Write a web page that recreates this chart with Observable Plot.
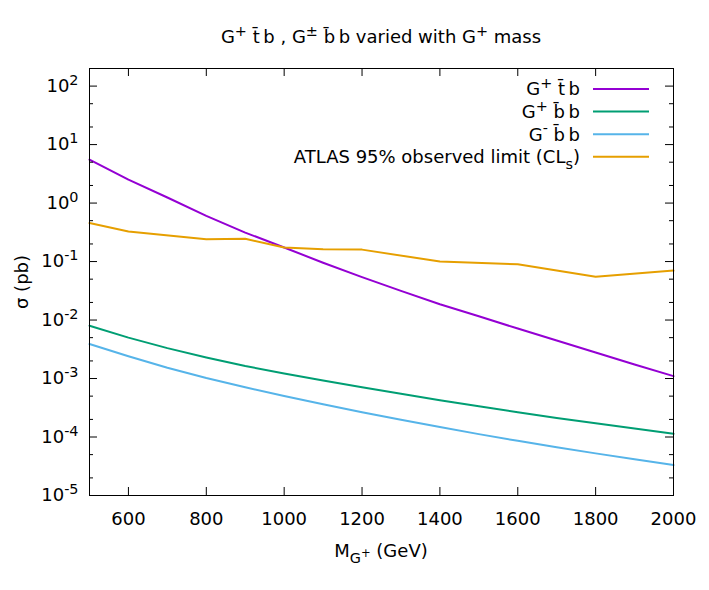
<!DOCTYPE html>
<html><head><meta charset="utf-8">
<script src="https://cdn.jsdelivr.net/npm/d3@7"></script>
<script src="https://cdn.jsdelivr.net/npm/@observablehq/plot@0.6"></script>
<style>body{margin:0;background:white}</style>
</head><body><div id="chart"></div>
<script>
// ---- data ----
const masses = [500,600,700,800,900,1000,1100,1200,1300,1400,1500,1600,1700,1800,1900,2000];
const sigmaTb = [5.53,2.51,1.245,0.605,0.313,0.174,0.0955,0.0543,0.0316,0.0186,0.0116,0.00716,0.00447,0.00279,0.00174,0.0011];
const sigmaBbPlus = [0.0080,0.00501,0.00331,0.00229,0.00164,0.00122,9.23e-4,7.08e-4,5.50e-4,4.27e-4,3.35e-4,2.66e-4,2.11e-4,1.72e-4,1.40e-4,1.135e-4];
const sigmaBbMinus = [3.89e-3,2.40e-3,1.53e-3,1.02e-3,7.08e-4,5.01e-4,3.63e-4,2.66e-4,1.97e-4,1.48e-4,1.12e-4,8.61e-5,6.68e-5,5.25e-5,4.17e-5,3.31e-5];
const limitMass = [500,600,800,900,1000,1100,1200,1400,1600,1800,2000];
const limitSigma = [0.455,0.327,0.24,0.245,0.174,0.163,0.16,0.100,0.090,0.055,0.070];
const seriesNames = ["G^{+} t\u0304\u2009b", "G^{+} b\u0304\u2009b", "G^{-} b\u0304\u2009b", "ATLAS 95% observed limit (CL_{s})"];
const seriesColors = ["#9400d3", "#009e73", "#56b4e9", "#e69f00"];
const xTicks = [600,800,1000,1200,1400,1600,1800,2000];
const yMajor = [1e-5,1e-4,1e-3,1e-2,1e-1,1,10,100];
const yMinor = [2e-5,5e-5,2e-4,5e-4,2e-3,5e-3,2e-2,5e-2,2e-1,5e-1,2,5,20,50,200];
const titleText = "G^{+} t\u0304\u2009b , G^{\u00b1} b\u0304\u2009b varied with G^{+} mass";
const xLabel = "M_{G}~{+} (GeV)";
const yLabel = "\u03c3 (pb)";

// ---- table ----
const rows = [];
[sigmaTb, sigmaBbPlus, sigmaBbMinus].forEach((arr, i) =>
  arr.forEach((s, j) => rows.push({series: seriesNames[i], m: masses[j], s})));
limitSigma.forEach((s, j) => rows.push({series: seriesNames[3], m: limitMass[j], s}));

const W = 709, H = 590, mL = 89, mR = 36, mT = 68, mB = 95;
const pw = W - mL - mR, ph = H - mT - mB;
const FS = 18;

const chart = Plot.plot({
  width: W, height: H,
  marginLeft: mL, marginRight: mR, marginTop: mT, marginBottom: mB,
  style: {fontFamily: "'DejaVu Sans', sans-serif", fontSize: FS + "px", background: "white", color: "black"},
  x: {type: "linear", domain: [500, 2000]},
  y: {type: "log", domain: [1e-5, 200]},
  color: {domain: seriesNames, range: seriesColors},
  marks: [
    Plot.line(rows, {x: "m", y: "s", z: "series", stroke: "series", strokeWidth: 2}),
    Plot.tickY(yMajor, {y: d => d, insetRight: pw - 8, stroke: "black"}),
    Plot.tickY(yMajor, {y: d => d, insetLeft: pw - 8, stroke: "black"}),
    Plot.tickY(yMinor, {y: d => d, insetRight: pw - 4, stroke: "black"}),
    Plot.tickY(yMinor, {y: d => d, insetLeft: pw - 4, stroke: "black"}),
    Plot.tickX(xTicks, {x: d => d, insetTop: ph - 8, stroke: "black"}),
    Plot.tickX(xTicks, {x: d => d, insetBottom: ph - 8, stroke: "black"}),
    Plot.axisX({ticks: xTicks, tickSize: 0, tickPadding: 17, label: null, tickFormat: d => String(d), fontSize: FS}),
    Plot.axisY({ticks: yMajor, tickSize: 0, tickPadding: 11, label: null, fontSize: FS,
      tickFormat: d => "10^{" + Math.round(Math.log10(d)) + "}"}),
    Plot.frame({stroke: "black", strokeWidth: 1})
  ]
});
document.getElementById("chart").appendChild(chart);

const svg = d3.select(chart);
const bl = y => y + 0.35 * FS; // baseline for a centred line
svg.append("text").attr("x", mL + pw / 2).attr("y", bl(37))
  .attr("text-anchor", "middle").attr("fill", "black").attr("font-size", FS).text(titleText);
svg.append("text").attr("x", mL + pw / 2).attr("y", bl(551))
  .attr("text-anchor", "middle").attr("fill", "black").attr("font-size", FS).text(xLabel);
svg.append("text").attr("transform", "translate(22,282) rotate(-90)").attr("dy", "0.35em")
  .attr("text-anchor", "middle").attr("fill", "black").attr("font-size", FS).text(yLabel);
const leg = svg.append("g");
seriesNames.forEach((name, i) => {
  const y = 89 + i * 22.6;
  leg.append("text").attr("x", 580).attr("y", bl(y)).attr("text-anchor", "end")
    .attr("fill", "black").attr("font-size", FS).text(name);
  leg.append("line").attr("x1", 593).attr("x2", 649).attr("y1", y).attr("y2", y)
    .attr("stroke", seriesColors[i]).attr("stroke-width", 2);
});

// rich text: ^{} superscript, _{} subscript, ~{} superscript on subscript
function richify(el) {
  const str = el.textContent;
  if (!/[\^_~]\{/.test(str)) return;
  const base = FS;
  const segs = [];
  const re = /([\^_~])\{([^}]*)\}|([^\^_~]+)/g; let m;
  while ((m = re.exec(str))) {
    if (m[3]) segs.push([m[3], 0, base]);
    else if (m[1] === "^") segs.push([m[2], -0.4 * base, 0.8 * base]);
    else if (m[1] === "_") segs.push([m[2], 0.3 * base, 0.8 * base]);
    else segs.push([m[2], 0.3 * base - 0.32 * base, 0.64 * base]);
  }
  const t = d3.select(el); t.text(null);
  let cur = 0;
  for (const [s, off, size] of segs) {
    t.append("tspan").attr("dy", off - cur).attr("font-size", size).text(s);
    cur = off;
  }
}
svg.selectAll("text").each(function () { richify(this); });
</script></body></html>
